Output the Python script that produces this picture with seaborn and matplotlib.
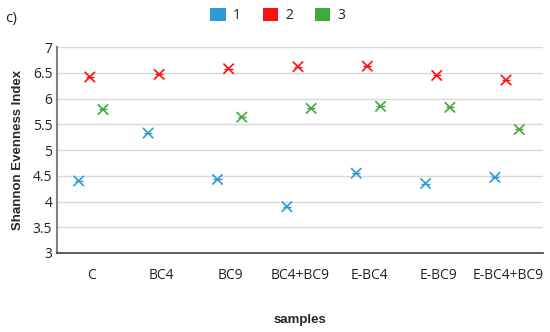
import numpy as np
import pandas as pd
import matplotlib
matplotlib.use("Agg")
import matplotlib.pyplot as plt
import seaborn as sns
from matplotlib.patches import Patch

samples = ["C", "BC4", "BC9", "BC4+BC9", "E-BC4", "E-BC9", "E-BC4+BC9"]
series1 = [4.40, 5.33, 4.43, 3.90, 4.55, 4.35, 4.47]
series2 = [6.42, 6.47, 6.58, 6.62, 6.63, 6.45, 6.36]
series3 = [5.79, np.nan, 5.64, 5.81, 5.85, 5.83, 5.40]
series_names = ["1", "2", "3"]
colors = ["#2E9BD8", "#FF1010", "#3DAA3D"]

offsets = [-0.19, -0.03, 0.16]
rows = []
for name, vals, off in zip(series_names, [series1, series2, series3], offsets):
    for i, v in enumerate(vals):
        rows.append({"pos": i + off, "value": v, "series": name})
df = pd.DataFrame(rows).dropna()

sns.set_style("white")
plt.rcParams["font.family"] = ["Open Sans", "DejaVu Sans"]

fig = plt.figure(figsize=(5.5, 3.32), dpi=100)
ax = fig.add_axes([0.104, 0.238, 0.883, 0.62])

sns.scatterplot(data=df, x="pos", y="value", hue="series", palette=colors,
                marker="x", s=55, linewidth=1.2, legend=False, ax=ax, zorder=3)
# small horizontal dash through each marker (Excel-style star)
sns.scatterplot(data=df, x="pos", y="value", hue="series", palette=colors,
                marker="_", s=35, linewidth=1.0, legend=False, ax=ax, zorder=3)

ax.set_xlim(-0.5, len(samples) - 0.5)
ax.set_ylim(3, 7)
ax.set_yticks(np.arange(3, 7.01, 0.5))
ax.set_yticklabels(["3", "3.5", "4", "4.5", "5", "5.5", "6", "6.5", "7"])
ax.set_xticks(range(len(samples)))
ax.set_xticklabels(samples)
ax.tick_params(axis="both", length=0, labelsize=10, colors="#222222")
ax.tick_params(axis="x", pad=11)
ax.yaxis.grid(True, color="#d9d9d9", linewidth=1)
ax.set_axisbelow(True)
for s in ["top", "right"]:
    ax.spines[s].set_visible(False)
ax.spines["left"].set_color("#808080")
ax.spines["left"].set_linewidth(1.5)
ax.spines["bottom"].set_color("#404040")
ax.spines["bottom"].set_linewidth(1.2)

ax.set_xlabel("samples", fontsize=9.5, fontweight="bold",
              family=["Liberation Sans", "DejaVu Sans"], labelpad=22)
ax.set_ylabel("Shannon Evenness Index", fontsize=9.5, fontweight="bold",
              family=["Liberation Sans", "DejaVu Sans"], labelpad=6)

handles = [Patch(facecolor=c, edgecolor="none", label=n) for n, c in zip(series_names, colors)]
fig.legend(handles=handles, loc="upper center", bbox_to_anchor=(0.505, 1.015), ncol=3,
           frameon=False, fontsize=10, handlelength=1.1, handleheight=1.1,
           columnspacing=1.6, handletextpad=0.5)

fig.text(0.01, 0.945, "c)", fontsize=11, ha="left", va="center")

fig.savefig("out.png", dpi=100)
